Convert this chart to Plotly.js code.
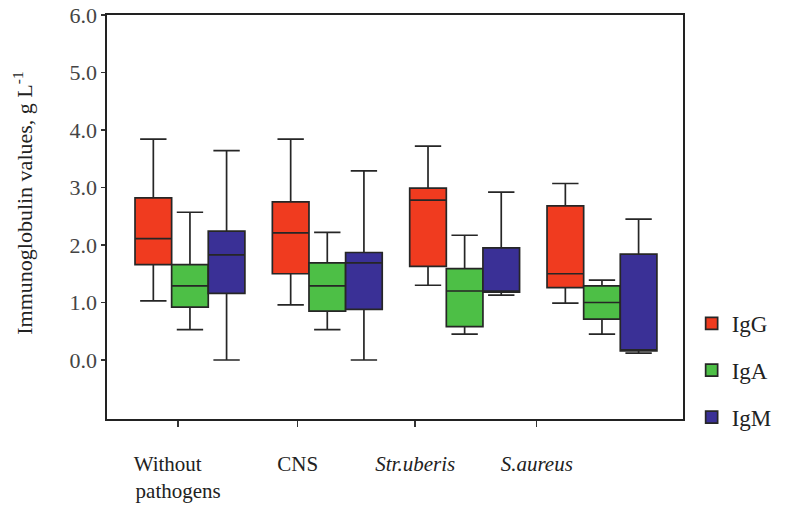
<!DOCTYPE html>
<html>
<head>
<meta charset="utf-8">
<script src="https://cdn.plot.ly/plotly-3.0.1.min.js"></script>
<style>html,body{margin:0;padding:0;background:#fff;}#chart{width:789px;height:506px;}</style>
</head>
<body>
<div id="chart"></div>
<script>
// Groups (x = 0..3)
const groups = ["Without pathogens", "CNS", "Str.uberis", "S.aureus"];
const groupIndex = [0, 1, 2, 3];
const tickLabels = ["Without&nbsp;&nbsp;&nbsp;&nbsp;<br>pathogens", "CNS", "<i>Str.uberis</i>", "<i>S.aureus</i>"];
const yTitle = "Immunoglobulin values, g L<sup>-1</sup>";

// IgG
const igG_lower  = [1.03, 0.96, 1.30, 0.99];
const igG_q1     = [1.66, 1.50, 1.63, 1.26];
const igG_median = [2.11, 2.21, 2.78, 1.50];
const igG_q3     = [2.82, 2.75, 2.99, 2.68];
const igG_upper  = [3.84, 3.84, 3.72, 3.07];

// IgA
const igA_lower  = [0.53, 0.53, 0.45, 0.45];
const igA_q1     = [0.92, 0.85, 0.58, 0.71];
const igA_median = [1.29, 1.29, 1.20, 1.00];
const igA_q3     = [1.66, 1.69, 1.59, 1.29];
const igA_upper  = [2.57, 2.22, 2.17, 1.39];

// IgM
const igM_lower  = [0.00, 0.00, 1.13, 0.12];
const igM_q1     = [1.16, 0.88, 1.18, 0.16];
const igM_median = [1.83, 1.69, 1.18, 0.16];
const igM_q3     = [2.24, 1.87, 1.95, 1.84];
const igM_upper  = [3.64, 3.29, 2.92, 2.45];

const serif = "Liberation Serif";

function boxTrace(name, color, lo, q1, med, q3, up) {
  return {
    type: "box",
    name: name,
    legendgroup: name,
    x: groupIndex,
    q1: q1, median: med, q3: q3,
    lowerfence: lo, upperfence: up,
    fillcolor: color,
    line: {color: "#262626", width: 1.7},
    whiskerwidth: 0.72,
    boxpoints: false,
    hoverinfo: "skip"
  };
}

const data = [
  boxTrace("IgG", "#f03b1f", igG_lower, igG_q1, igG_median, igG_q3, igG_upper),
  boxTrace("IgA", "#4dbf46", igA_lower, igA_q1, igA_median, igA_q3, igA_upper),
  boxTrace("IgM", "#3a3096", igM_lower, igM_q1, igM_median, igM_q3, igM_upper)
];

const layout = {
  width: 789, height: 506,
  margin: {l: 107, r: 99, t: 15, b: 87},
  paper_bgcolor: "#fff", plot_bgcolor: "#fff",
  boxmode: "group",
  boxgap: 0.2,
  boxgroupgap: 0,
  font: {family: serif, color: "#222", size: 21},
  showlegend: true,
  legend: {
    x: 1.015, xanchor: "left",
    y: 0.29, yanchor: "top",
    font: {family: serif, size: 23, color: "#222"},
    tracegroupgap: 14,
    itemwidth: 30,
    bgcolor: "rgba(0,0,0,0)"
  },
  xaxis: {
    type: "linear",
    range: [-0.604, 3.59],
    tickmode: "array",
    tickvals: [-0.086, 0.784, 1.64, 2.525],
    ticktext: tickLabels,
    ticks: "outside", ticklen: 6, tickwidth: 1.5, tickcolor: "#333",
    ticklabelstandoff: 19,
    tickfont: {family: serif, size: 21, color: "#222"},
    showgrid: false, zeroline: false,
    showline: true, linecolor: "#222", linewidth: 1.6, mirror: true,
    fixedrange: true
  },
  yaxis: {
    range: [-1.026, 6.0],
    tickmode: "array",
    tickvals: [0, 1, 2, 3, 4, 5, 6],
    tickformat: ".1f",
    ticks: "outside", ticklen: 4, tickwidth: 1.5, tickcolor: "#333",
    tickfont: {family: serif, size: 22, color: "#444"},
    showgrid: false, zeroline: false,
    showline: true, linecolor: "#222", linewidth: 1.6, mirror: true,
    fixedrange: true
  },
  annotations: [{
    text: yTitle,
    xref: "paper", yref: "paper",
    x: -0.146, y: 0.535,
    xanchor: "center", yanchor: "middle",
    textangle: -90,
    showarrow: false,
    font: {family: serif, size: 22, color: "#222"}
  }]
};

Plotly.newPlot("chart", data, layout, {displayModeBar: false, staticPlot: true});
</script>
</body>
</html>
